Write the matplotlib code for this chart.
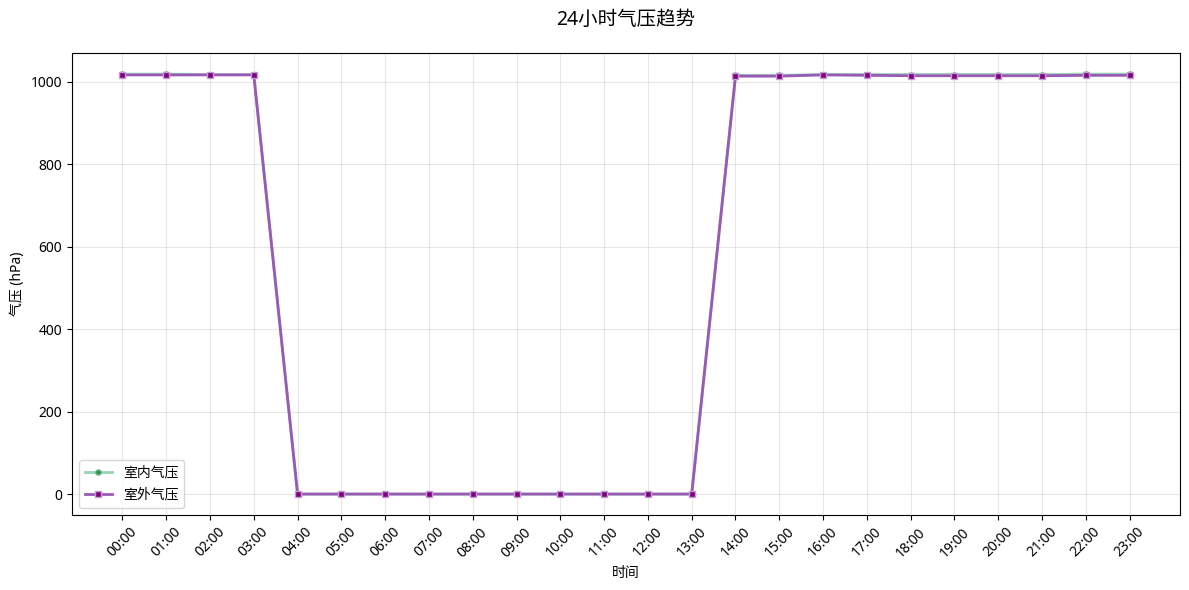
import matplotlib.pyplot as plt

plt.rcParams['font.family'] = ['Noto Sans', 'Noto Sans CJK SC', 'DejaVu Sans']
plt.rcParams['axes.unicode_minus'] = False

hours = ['%02d:00' % h for h in range(24)]
indoor = [1019, 1019, 1018, 1018, 0, 0, 0, 0, 0, 0, 0, 0, 0, 0,
          1016, 1016, 1018, 1018, 1018, 1018, 1018, 1018, 1019, 1019]
outdoor = [1017, 1017, 1017, 1017, 0, 0, 0, 0, 0, 0, 0, 0, 0, 0,
           1014, 1014, 1017, 1016, 1015, 1015, 1015, 1015, 1016, 1016]

fig, ax = plt.subplots(figsize=(11.89, 5.9), dpi=100)
x = range(len(hours))
ax.plot(x, indoor, color='#52b788', alpha=0.6, linewidth=2, marker='o',
        markersize=4, markerfacecolor='darkgreen', markeredgecolor='#52b788',
        label='室内气压')
ax.plot(x, outdoor, color='#9b59b6', linewidth=2, marker='s',
        markersize=5, markerfacecolor='purple', markeredgecolor='#c39bd3',
        label='室外气压')

ax.set_xticks(list(x))
ax.set_xticklabels(hours, rotation=45)
ax.set_xlabel('时间')
ax.set_ylabel('气压 (hPa)')
ax.set_title('24小时气压趋势', fontsize=14, pad=20)
ax.grid(True, alpha=0.3)
ax.legend(loc='lower left')
fig.subplots_adjust(left=0.0606, right=0.9924, top=0.910, bottom=0.127)
fig.savefig('out.png')
